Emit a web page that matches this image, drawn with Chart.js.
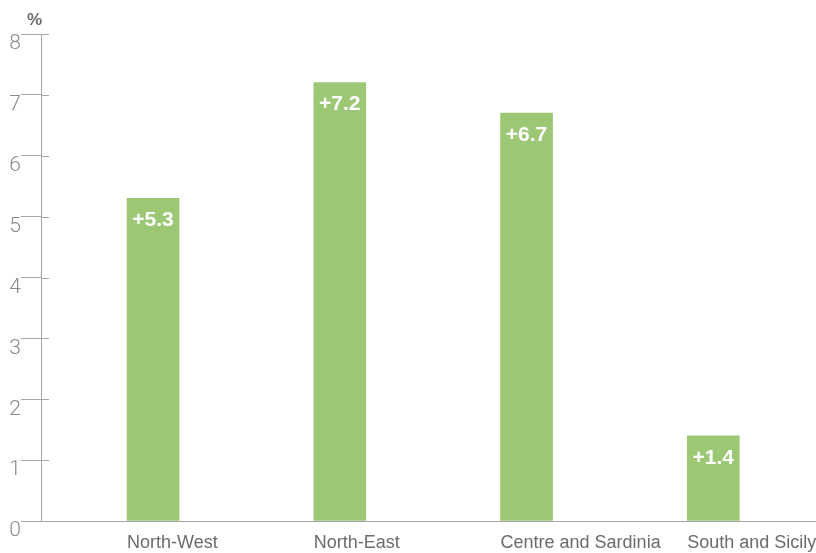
<!DOCTYPE html>
<html lang="en">
<head>
    <meta charset="UTF-8">
    <title>Regional growth</title>
    <script src="https://cdn.jsdelivr.net/npm/chart.js"></script>
    <style>
        body { margin: 0; background: #fff; }
        #wrap { width: 816px; height: 553px; }
    </style>
</head>
<body>
    <div id="wrap"><canvas id="chart"></canvas></div>
    <script>
        // Dati del grafico
        const categories = ['North-West', 'North-East', 'Centre and Sardinia', 'South and Sicily'];
        const values = [5.3, 7.2, 6.7, 1.4];
        const valueLabels = ['+5.3', '+7.2', '+6.7', '+1.4'];
        const yTicks = [0, 1, 2, 3, 4, 5, 6, 7, 8];

        const axisGray = '#a6a6a6';

        // etichette dentro le barre, simbolo % e piccoli tratti a destra dell'asse
        const extras = {
            id: 'extras',
            afterDraw(chart) {
                const ctx = chart.ctx;
                const y = chart.scales.y;
                const left = chart.chartArea.left;
                ctx.save();
                ctx.strokeStyle = axisGray;
                ctx.lineWidth = 1;
                yTicks.forEach(t => {
                    const py = Math.round(y.getPixelForValue(t)) + 0.5;
                    ctx.beginPath();
                    ctx.moveTo(left, py);
                    ctx.lineTo(left + 8, py);
                    ctx.stroke();
                });

                ctx.fillStyle = '#6b6b6b';
                ctx.font = 'bold 17px "Liberation Sans", Arial, sans-serif';
                ctx.textAlign = 'right';
                ctx.textBaseline = 'middle';
                ctx.fillText('%', left + 1, 20);

                const meta = chart.getDatasetMeta(0);
                ctx.fillStyle = '#ffffff';
                ctx.font = 'bold 21px "Liberation Sans", Arial, sans-serif';
                ctx.textAlign = 'center';
                meta.data.forEach((bar, i) => {
                    ctx.fillText(valueLabels[i], bar.x, bar.y + 22);
                });
                ctx.restore();
            }
        };

        const ctx = document.getElementById('chart').getContext('2d');
        new Chart(ctx, {
            type: 'bar',
            data: {
                datasets: [{
                    data: values.map((v, i) => ({ x: i, y: v })),
                    backgroundColor: '#9cc876',
                    barThickness: 52
                }]
            },
            options: {
                responsive: true,
                maintainAspectRatio: false,
                animation: false,
                layout: { padding: { top: 34, right: 0, left: 0, bottom: 0 } },
                plugins: {
                    legend: { display: false },
                    tooltip: { enabled: false }
                },
                scales: {
                    x: {
                        type: 'linear',
                        offset: false,
                        min: -0.6,
                        max: 3.55,
                        afterFit(scale) {
                            scale.height = 32;
                            scale.paddingLeft = 0;
                            scale.paddingRight = 0;
                        },
                        grid: { display: false, offset: false },
                        border: { color: axisGray },
                        ticks: {
                            stepSize: 1,
                            includeBounds: false,
                            autoSkip: false,
                            maxRotation: 0,
                            align: 'start',
                            labelOffset: -26,
                            padding: 3,
                            color: '#6b6b6b',
                            font: { family: '"Liberation Sans", Arial, sans-serif', size: 18 },
                            callback: v => categories[v] ?? ''
                        }
                    },
                    y: {
                        min: 0,
                        max: 8,
                        afterFit(scale) { scale.width = 41; },
                        afterBuildTicks(scale) { scale.ticks = yTicks.map(v => ({ value: v })); },
                        grid: {
                            drawOnChartArea: false,
                            tickLength: 20,
                            color: axisGray
                        },
                        border: { color: axisGray },
                        ticks: {
                            padding: 0,
                            labelOffset: 10,
                            color: '#8a8a8a',
                            font: { family: 'Roboto, "Liberation Sans", sans-serif', size: 21, weight: '300' }
                        }
                    }
                }
            },
            plugins: [extras]
        });
    </script>
</body>
</html>
